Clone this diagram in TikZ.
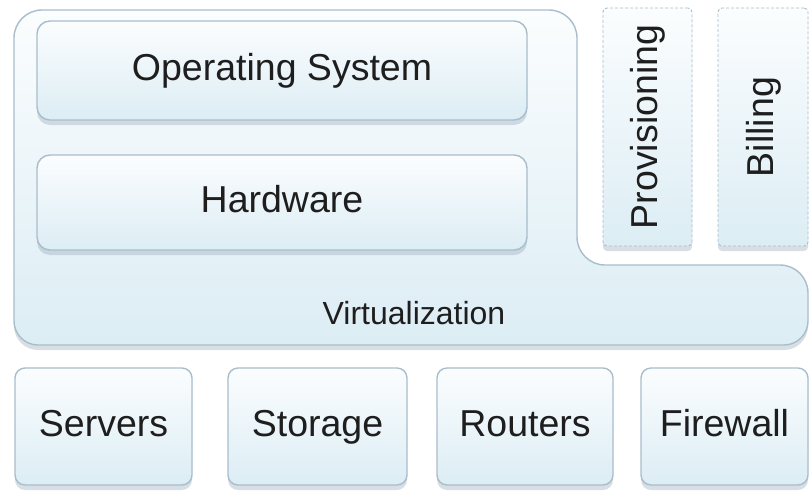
\documentclass[tikz,border=0pt]{standalone}
\usepackage{fontspec}
\setmainfont{Liberation Sans}
\usetikzlibrary{shadows}
\definecolor{edgec}{HTML}{A9BDCB}
\definecolor{topc}{HTML}{FBFDFE}
\definecolor{botc}{HTML}{DCEDF4}
\definecolor{txtc}{HTML}{1E1E1E}
\definecolor{shc}{HTML}{8FA3B3}
\tikzset{
  softshadow/.style={drop shadow={shadow xshift=0pt, shadow yshift=-5pt, opacity=0.35, fill=shc}},
  bigtext/.style={text=txtc, font=\fontsize{37.5}{44}\selectfont, text height=27pt, text depth=7pt},
  panel/.style={draw=edgec, line width=1.4pt, top color=topc, bottom color=botc, bigtext, softshadow},
  layerbox/.style={panel, rounded corners=13pt},
  sidebox/.style={panel, rounded corners=4pt, densely dashed, line width=0.9pt},
  basebox/.style={panel, rounded corners=10pt, minimum height=117pt},
}
\begin{document}
\begin{tikzpicture}[x=1pt,y=-1pt]
\useasboundingbox (0,0) rectangle (811,491);
% virtualization layer
\path[draw=edgec, line width=1.4pt, top color=topc, bottom color=botc, softshadow, rounded corners=28pt]
  (14,180) -- (14,10) -- (577,10) -- (577,265) -- (808,265) [rounded corners=24pt] -- (808,345) -- (14,345) -- cycle;
\node[text=txtc, font=\fontsize{32}{38}\selectfont] (virt) at (414,313) {Virtualization};
% layers
\node[layerbox, minimum width=490pt, minimum height=99pt] (os) at (282,70.5) {Operating System};
\node[layerbox, minimum width=490pt, minimum height=95pt] (hw) at (282,202.5) {Hardware};
% side boxes
\node[sidebox, minimum width=89pt, minimum height=238pt] (prov) at (647.5,127) {};
\node[rotate=90, bigtext] (provt) at (prov.center) {Provisioning};
\node[sidebox, minimum width=90pt, minimum height=238pt] (bill) at (763,127) {};
\node[rotate=90, bigtext] (billt) at (bill.center) {Billing};
% base resources
\node[basebox, minimum width=177pt] (srv) at (103.5,426.5) {Servers};
\node[basebox, minimum width=179pt] (sto) at (317.5,426.5) {Storage};
\node[basebox, minimum width=176pt] (rtr) at (525,426.5) {Routers};
\node[basebox, minimum width=167pt] (fw) at (724.5,426.5) {Firewall};
\end{tikzpicture}
\end{document}
